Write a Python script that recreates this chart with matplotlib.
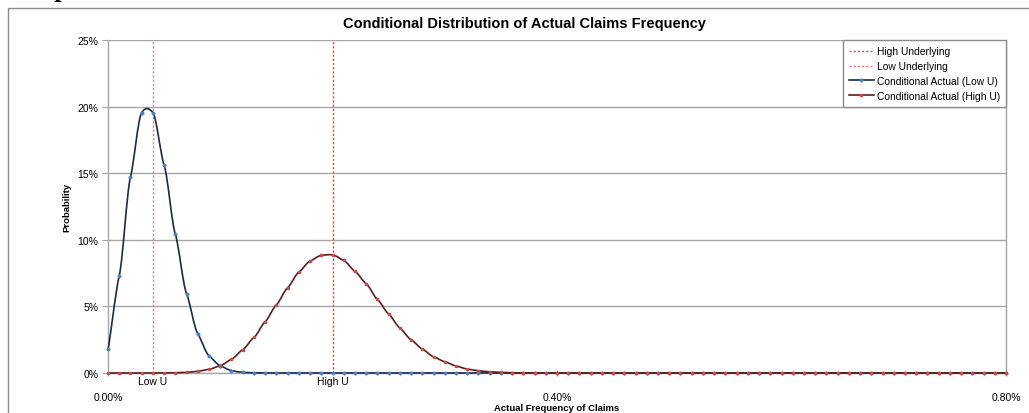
import numpy as np
import matplotlib
matplotlib.use("Agg")
import matplotlib.pyplot as plt
from matplotlib.path import Path
from matplotlib.patches import PathPatch, Rectangle
from matplotlib.lines import Line2D
from matplotlib.ticker import FuncFormatter

# ---------------- data ----------------
title = "Conditional Distribution of Actual Claims Frequency"
x_label = "Actual Frequency of Claims"
y_label = "Probability"

# actual frequency of claims (%)
freq = [0.00, 0.01, 0.02, 0.03, 0.04, 0.05, 0.06, 0.07, 0.08, 0.09,
        0.10, 0.11, 0.12, 0.13, 0.14, 0.15, 0.16, 0.17, 0.18, 0.19,
        0.20, 0.21, 0.22, 0.23, 0.24, 0.25, 0.26, 0.27, 0.28, 0.29,
        0.30, 0.31, 0.32, 0.33, 0.34, 0.35, 0.36, 0.37, 0.38, 0.39,
        0.40, 0.41, 0.42, 0.43, 0.44, 0.45, 0.46, 0.47, 0.48, 0.49,
        0.50, 0.51, 0.52, 0.53, 0.54, 0.55, 0.56, 0.57, 0.58, 0.59,
        0.60, 0.61, 0.62, 0.63, 0.64, 0.65, 0.66, 0.67, 0.68, 0.69,
        0.70, 0.71, 0.72, 0.73, 0.74, 0.75, 0.76, 0.77, 0.78, 0.79,
        0.80]

# probability (%) conditional on low underlying
prob_low = [1.8, 7.3, 14.7, 19.55, 19.55, 15.6, 10.4, 5.95, 2.95, 1.3,
            0.55, 0.18, 0.05, 0.015, 0.004, 0.001, 0, 0, 0, 0,
            0, 0, 0, 0, 0, 0, 0, 0, 0, 0,
            0, 0, 0, 0, 0, 0, 0, 0, 0, 0,
            0, 0, 0, 0, 0, 0, 0, 0, 0, 0,
            0, 0, 0, 0, 0, 0, 0, 0, 0, 0,
            0, 0, 0, 0, 0, 0, 0, 0, 0, 0,
            0, 0, 0, 0, 0, 0, 0, 0, 0, 0,
            0]

# probability (%) conditional on high underlying
prob_high = [0, 0, 0, 0, 0.002, 0.01, 0.02, 0.05, 0.13, 0.28,
             0.55, 1.03, 1.75, 2.67, 3.85, 5.12, 6.4, 7.57, 8.4, 8.83,
             8.87, 8.45, 7.63, 6.7, 5.53, 4.43, 3.38, 2.5, 1.8, 1.22,
             0.85, 0.53, 0.3, 0.17, 0.09, 0.045, 0.02, 0.01, 0.005, 0.002,
             0, 0, 0, 0, 0, 0, 0, 0, 0, 0,
             0, 0, 0, 0, 0, 0, 0, 0, 0, 0,
             0, 0, 0, 0, 0, 0, 0, 0, 0, 0,
             0, 0, 0, 0, 0, 0, 0, 0, 0, 0,
             0]

low_underlying = 0.04
high_underlying = 0.20
marker_labels = ["Low U", "High U"]
x_ticks = [0.00, 0.40, 0.80]
y_ticks = [0, 5, 10, 15, 20, 25]
legend_labels = ["High Underlying", "Low Underlying",
                 "Conditional Actual (Low U)", "Conditional Actual (High U)"]

# ---------------- style ----------------
FONT = ["Liberation Sans", "DejaVu Sans"]
plt.rcParams["font.family"] = FONT
W, H, DPI = 1029, 414, 100
fig = plt.figure(figsize=(W / DPI, H / DPI), dpi=DPI)

L, R, T, B = 108, 1006, 41, 374
ax = fig.add_axes([L / W, 1 - B / H, (R - L) / W, (B - T) / H])
ax.set_xlim(0, 0.80)
ax.set_ylim(0, 25)

grid_col = "#a6a6a6"
for s in ["left", "right", "bottom", "top"]:
    ax.spines[s].set_color(grid_col)
    ax.spines[s].set_linewidth(1.0)
ax.spines["top"].set_visible(False)
ax.set_yticks(y_ticks)
ax.yaxis.set_major_formatter(FuncFormatter(lambda v, p: f"{v:.0f}%"))
ax.set_xticks(x_ticks)
ax.xaxis.set_major_formatter(FuncFormatter(lambda v, p: f"{v:.2f}%"))
ax.grid(axis="y", color=grid_col, lw=1.0)
ax.set_axisbelow(True)
ax.tick_params(axis="y", direction="out", length=4, width=0.8, color=grid_col,
               labelsize=7.5, pad=3, labelcolor="#000000")
ax.tick_params(axis="x", direction="inout", length=5, width=0.8, color=grid_col,
               labelsize=7.5, pad=11, labelcolor="#000000")

# smoothed (Excel-like) curve drawn through the data points
def smooth_path(xs, ys, k=0.09):
    xs = np.asarray(xs, float)
    ys = np.asarray(ys, float)
    n = len(xs)
    verts = [(xs[0], ys[0])]
    codes = [Path.MOVETO]
    for i in range(n - 1):
        x0, y0 = (xs[i - 1], ys[i - 1]) if i > 0 else (xs[i], ys[i])
        x1, y1 = xs[i], ys[i]
        x2, y2 = xs[i + 1], ys[i + 1]
        x3, y3 = (xs[i + 2], ys[i + 2]) if i + 2 < n else (xs[i + 1], ys[i + 1])
        c1 = (x1 + (x2 - x0) / 6, y1 + k * (y2 - y0))
        c2 = (x2 - (x3 - x1) / 6, y2 - k * (y3 - y1))
        verts += [c1, c2, (x2, y2)]
        codes += [Path.CURVE4] * 3
    return Path(verts, codes)

low_line, low_mark = "#1b2a4a", "#4f81bd"
high_line, high_mark = "#5a1e1e", "#c0504d"
vl_high, vl_low = "#e04848", "#ec7c7c"
dots = (0, (1.6, 1.4))

# vertical reference lines
ax.plot([high_underlying, high_underlying], [0, 25], color=vl_high, lw=1.0,
        ls=dots, zorder=2)
ax.plot([low_underlying, low_underlying], [0, 25], color=vl_low, lw=1.0,
        ls=dots, zorder=2)

ms = 1.6
ax.add_patch(PathPatch(smooth_path(freq, prob_low), fill=False,
                       edgecolor=low_line, lw=1.2, zorder=3, clip_on=False))
ax.plot(freq, prob_low, ls="none", marker="D", ms=ms, color=low_mark,
        mec=low_mark, zorder=4, clip_on=False)
ax.add_patch(PathPatch(smooth_path(freq, prob_high), fill=False,
                       edgecolor=high_line, lw=1.2, zorder=5, clip_on=False))
ax.plot(freq, prob_high, ls="none", marker="s", ms=ms, color=high_mark,
        mec=high_mark, zorder=6, clip_on=False)

# labels for the underlying frequencies
for xv, lab in zip([low_underlying, high_underlying], marker_labels):
    ax.annotate(lab, (xv, 0), xytext=(0, -2.5), textcoords="offset points",
                ha="center", va="top", fontsize=7.5, color="#000000")

# legend
handles = [
    Line2D([], [], color=vl_high, lw=1.0, ls=dots),
    Line2D([], [], color=vl_low, lw=1.0, ls=dots),
    Line2D([], [], color=low_line, lw=1.2, marker="D", ms=ms,
           mfc=low_mark, mec=low_mark),
    Line2D([], [], color=high_line, lw=1.2, marker="s", ms=ms,
           mfc=high_mark, mec=high_mark),
]
leg = ax.legend(handles, legend_labels, loc="upper right",
                bbox_to_anchor=(1.0, 1.0), borderaxespad=0, fontsize=7.4,
                frameon=True, fancybox=False, handlelength=2.4,
                handletextpad=0.3, labelspacing=0.48, borderpad=0.6,
                framealpha=1)
leg.get_frame().set_edgecolor("#8c8c8c")
leg.get_frame().set_linewidth(1.0)
leg.set_zorder(10)

# titles
fig.text(524 / W, 1 - 24 / H, title, ha="center", va="center",
         fontsize=10.5, fontweight="bold")
fig.text((L + R) / 2 / W, 1 - 409 / H, x_label, ha="center", va="center",
         fontsize=6.8, fontweight="bold")
fig.text(67 / W, 1 - 207 / H, y_label, ha="center", va="center",
         rotation=90, fontsize=6.8, fontweight="bold")

# chart area frame (extends beyond the crop)
fig.add_artist(Rectangle((8 / W, -0.2), 2.0, 1.2 - 9 / H,
                         transform=fig.transFigure, fill=False,
                         edgecolor="#8c8c8c", lw=1.0))
# cut-off heading glyph at top left (only its descender is visible)
fig.text(61 / W, 1 + 2.2 / H, "p", ha="center", va="baseline",
         fontsize=15, fontweight="bold", family="DejaVu Serif")

fig.savefig("out.png", dpi=DPI)
